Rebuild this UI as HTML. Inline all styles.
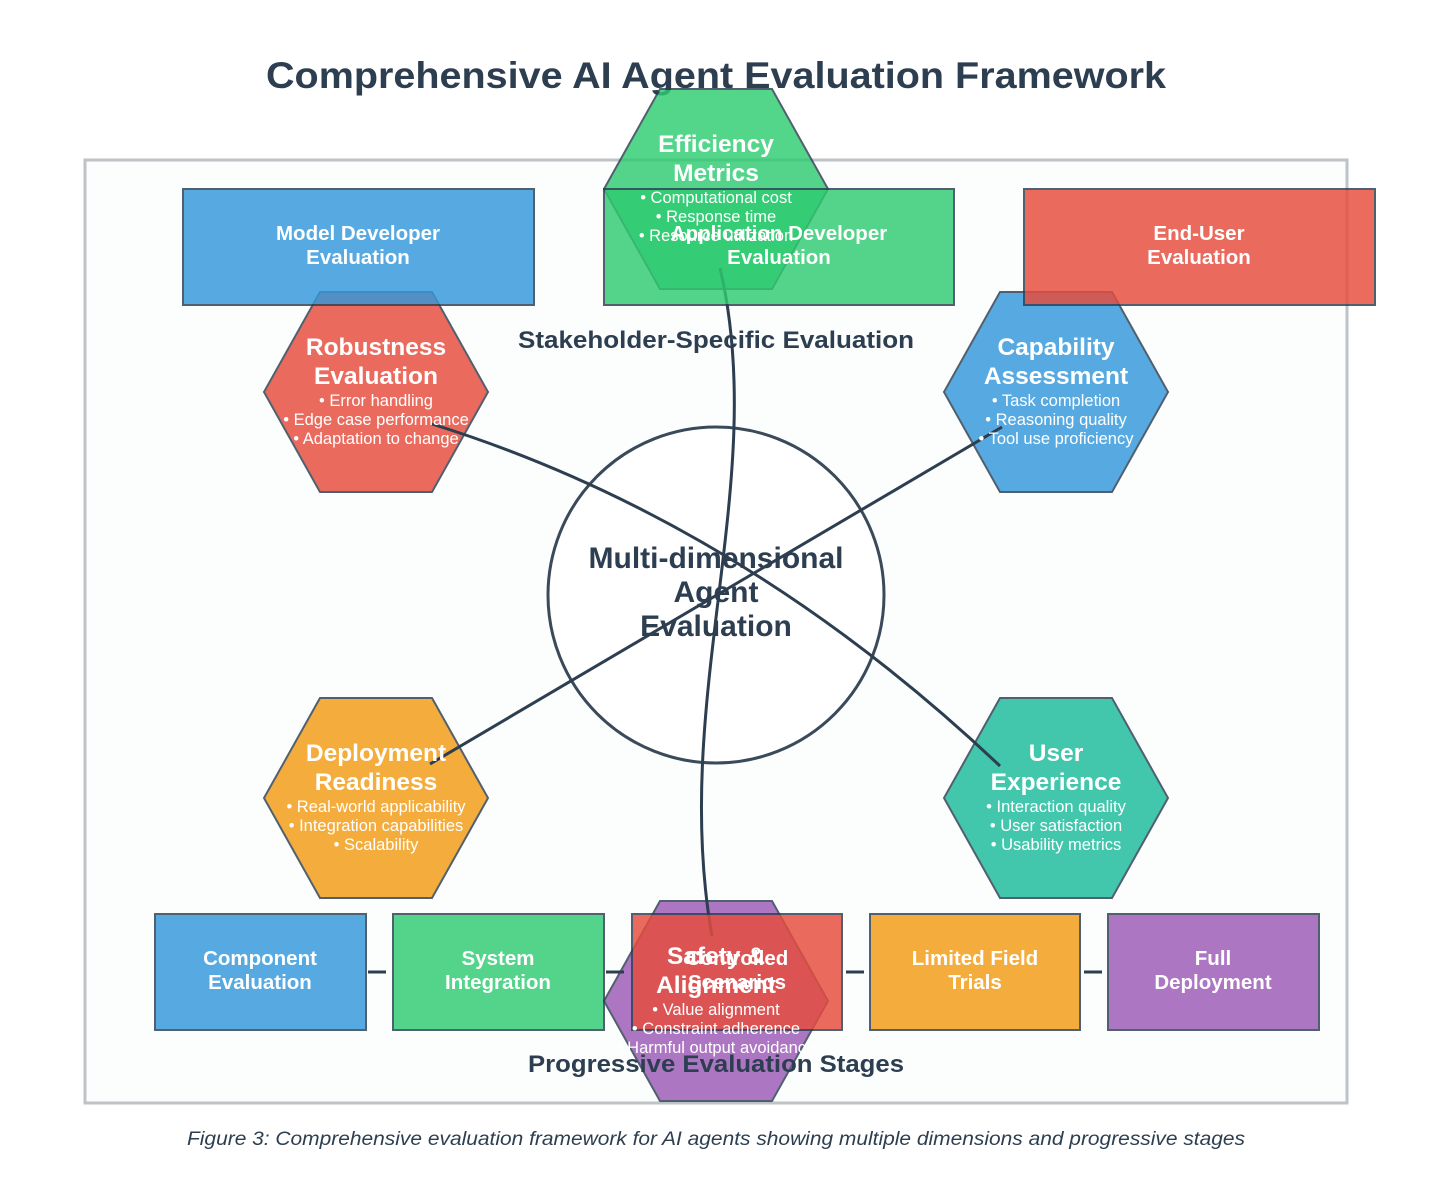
<!DOCTYPE html>
<html><head><meta charset="utf-8"><style>
html,body{margin:0;padding:0;background:#fff;}
svg{display:block;font-family:"Liberation Sans",sans-serif;}
.ht{fill:#fff;font-weight:bold;font-size:24.5px;text-anchor:middle;}
.hb{fill:#fff;font-size:16.5px;text-anchor:middle;}
.rt{fill:#fff;font-weight:bold;font-size:20.5px;text-anchor:middle;}
</style></head><body>
<svg width="1432" height="1190" viewBox="0 0 1432 1190">
<rect width="1432" height="1190" fill="#fff"/>
<text x="716" y="88" text-anchor="middle" font-size="37" font-weight="bold" fill="#2c3e50" textLength="900" lengthAdjust="spacingAndGlyphs">Comprehensive AI Agent Evaluation Framework</text>
<rect x="85" y="160" width="1262" height="943" fill="#fcfdfd" stroke="#bdc3c7" stroke-width="3"/>
<circle cx="716" cy="595" r="168" fill="#fff" stroke="#3a4a5a" stroke-width="3"/>
<g stroke="#2c3e50" stroke-width="2" opacity="0.82">
<polygon points="660,89 772,89 828,189 772,289 660,289 604,189" fill="#2ecc71"/>
<polygon points="320,292 432,292 488,392 432,492 320,492 264,392" fill="#e74c3c"/>
<polygon points="1000,292 1112,292 1168,392 1112,492 1000,492 944,392" fill="#3498db"/>
<polygon points="320,698 432,698 488,798 432,898 320,898 264,798" fill="#f39c12"/>
<polygon points="1000,698 1112,698 1168,798 1112,898 1000,898 944,798" fill="#1abc9c"/>
<polygon points="660,901 772,901 828,1001 772,1101 660,1101 604,1001" fill="#9b59b6"/>
</g>
<g fill="none" stroke="#2c3e50" stroke-width="3">
<path d="M432,424 Q740,520 1000,766"/>
<path d="M1002,427 Q690,610 430,764"/>
<path d="M720,268 C770,480 670,700 712,936"/>
<path d="M368,972 H386 M606,972 H624 M846,972 H864 M1084,972 H1102"/>
</g>
<g stroke="#2c3e50" stroke-width="2" opacity="0.82">
<rect x="183" y="189" width="351" height="116" fill="#3498db"/>
<rect x="604" y="189" width="350" height="116" fill="#2ecc71"/>
<rect x="1024" y="189" width="351" height="116" fill="#e74c3c"/>
<rect x="155" y="914" width="211" height="116" fill="#3498db"/>
<rect x="393" y="914" width="211" height="116" fill="#2ecc71"/>
<rect x="632" y="914" width="210" height="116" fill="#e74c3c"/>
<rect x="870" y="914" width="210" height="116" fill="#f39c12"/>
<rect x="1108" y="914" width="211" height="116" fill="#9b59b6"/>
</g>
<g fill="#2c3e50" font-weight="bold" text-anchor="middle">
<text x="716" y="568" font-size="30">Multi-dimensional</text>
<text x="716" y="602" font-size="30">Agent</text>
<text x="716" y="636" font-size="30">Evaluation</text>
<text x="716" y="348" font-size="24" textLength="396" lengthAdjust="spacingAndGlyphs">Stakeholder-Specific Evaluation</text>
<text x="716" y="1072" font-size="24" textLength="376" lengthAdjust="spacingAndGlyphs">Progressive Evaluation Stages</text>
</g>
<text class="ht" x="716" y="152">Efficiency</text><text class="ht" x="716" y="181">Metrics</text>
<text class="hb" x="716" y="203">• Computational cost</text><text class="hb" x="716" y="222">• Response time</text><text class="hb" x="716" y="241">• Resource utilization</text>
<text class="ht" x="376" y="355">Robustness</text><text class="ht" x="376" y="384">Evaluation</text>
<text class="hb" x="376" y="406">• Error handling</text><text class="hb" x="376" y="425">• Edge case performance</text><text class="hb" x="376" y="444">• Adaptation to change</text>
<text class="ht" x="1056" y="355">Capability</text><text class="ht" x="1056" y="384">Assessment</text>
<text class="hb" x="1056" y="406">• Task completion</text><text class="hb" x="1056" y="425">• Reasoning quality</text><text class="hb" x="1056" y="444">• Tool use proficiency</text>
<text class="ht" x="376" y="761">Deployment</text><text class="ht" x="376" y="790">Readiness</text>
<text class="hb" x="376" y="812">• Real-world applicability</text><text class="hb" x="376" y="831">• Integration capabilities</text><text class="hb" x="376" y="850">• Scalability</text>
<text class="ht" x="1056" y="761">User</text><text class="ht" x="1056" y="790">Experience</text>
<text class="hb" x="1056" y="812">• Interaction quality</text><text class="hb" x="1056" y="831">• User satisfaction</text><text class="hb" x="1056" y="850">• Usability metrics</text>
<text class="ht" x="716" y="964">Safety &amp;</text><text class="ht" x="716" y="993">Alignment</text>
<text class="hb" x="716" y="1015">• Value alignment</text><text class="hb" x="716" y="1034">• Constraint adherence</text><text class="hb" x="716" y="1053">• Harmful output avoidance</text>
<text class="rt" x="358" y="240">Model Developer</text><text class="rt" x="358" y="264">Evaluation</text>
<text class="rt" x="779" y="240">Application Developer</text><text class="rt" x="779" y="264">Evaluation</text>
<text class="rt" x="1199" y="240">End-User</text><text class="rt" x="1199" y="264">Evaluation</text>
<text class="rt" x="260" y="965">Component</text><text class="rt" x="260" y="989">Evaluation</text>
<text class="rt" x="498" y="965">System</text><text class="rt" x="498" y="989">Integration</text>
<text class="rt" x="737" y="965">Controlled</text><text class="rt" x="737" y="989">Scenarios</text>
<text class="rt" x="975" y="965">Limited Field</text><text class="rt" x="975" y="989">Trials</text>
<text class="rt" x="1213" y="965">Full</text><text class="rt" x="1213" y="989">Deployment</text>
<text x="716" y="1145" text-anchor="middle" font-size="19" font-style="italic" fill="#2c3e50" textLength="1058" lengthAdjust="spacingAndGlyphs">Figure 3: Comprehensive evaluation framework for AI agents showing multiple dimensions and progressive stages</text>
</svg>
</body></html>
